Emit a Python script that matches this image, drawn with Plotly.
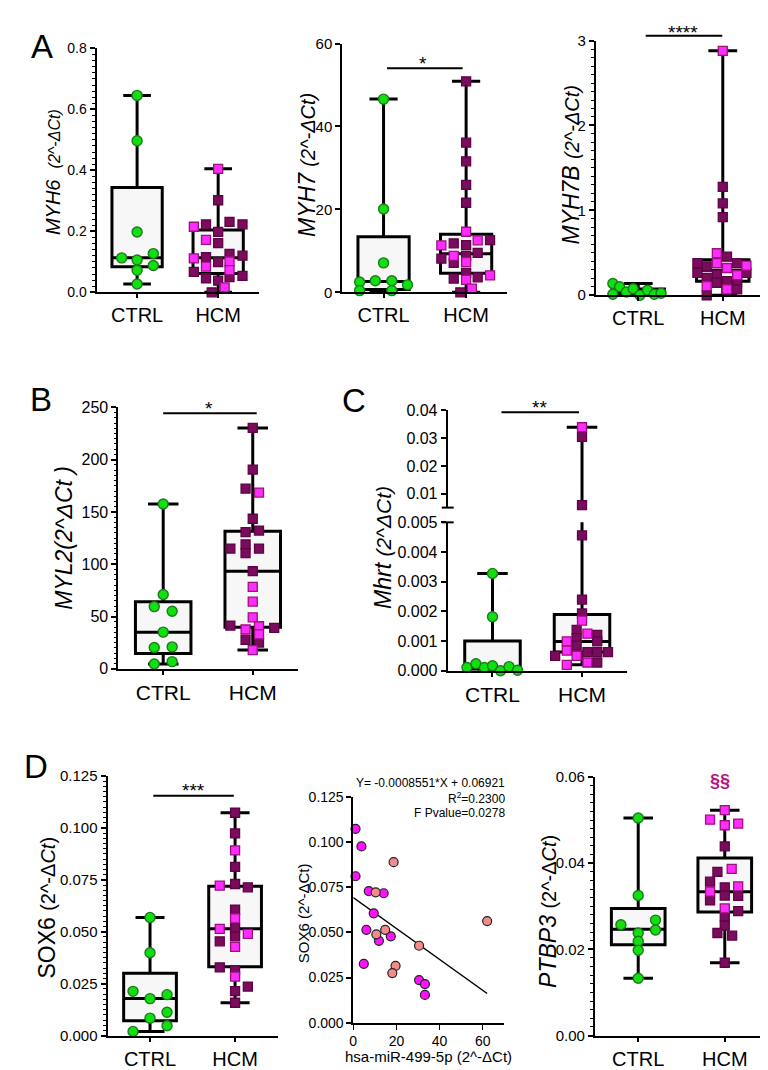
import numpy as np
import plotly.graph_objects as go

W, H = 768, 1070
FONT = "Liberation Sans, Arial, sans-serif"

GREEN = "#10e010"
GREEN_LINE = "#1d7a1d"
DARK = "#7b0b5c"
DARK_LINE = "#5e0345"
LIGHT = "#ff2cff"
LIGHT_LINE = "#9a1379"
BOXFILL = "#f7f7f7"

# ---------------- data ----------------
# box stats: [min, q1, median, q3, max]
# A - MYH6
myh6_ctrl = [0.646, 0.497, 0.198, 0.113, 0.106, 0.127, 0.088, 0.072, 0.027]
myh6_ctrl_dx = [0, 0, 0, -0.19, 0, 0.2, 0.2, 0, 0]
myh6_hcm = [0.405, 0.302, 0.215, 0.223, 0.198, 0.231, 0.223, 0.172, 0.161, 0.111, 0.115, 0.126,
            0.120, 0.099, 0.101, 0.084, 0.073, 0.067, 0.046, 0.038, 0.050, 0.054, 0.016, 0.0]
myh6_hcm_dx = [0, 0, -0.30, -0.15, 0, 0.14, 0.30, -0.15, 0, -0.30, -0.15, 0.14,
               0.30, 0, 0.14, -0.15, 0.14, -0.30, -0.15, 0, 0.14, 0.30, 0.08, -0.08]
myh6_hcm_dark = [0, 1, 0, 1, 1, 1, 1, 0, 1, 0, 1, 1, 1, 1, 0, 0, 0, 1, 1, 1, 1, 1, 0, 1]
myh6_box_ctrl = [0.027, 0.084, 0.113, 0.344, 0.646]
myh6_box_hcm = [0.0, 0.062, 0.113, 0.204, 0.405]

# A - MYH7
myh7_ctrl = [46.6, 20.1, 7.1, 2.5, 2.8, 2.8, 1.8, 0.4, 0.4]
myh7_ctrl_dx = [0, 0, 0, -0.29, -0.10, 0.10, 0.29, -0.29, 0.10]
myh7_hcm = [50.9, 36.1, 31.6, 25.9, 21.6, 14.6, 11.3, 11.8, 11.4, 12.5, 12.6, 8.1,
            8.8, 8.8, 9.5, 7.1, 7.3, 4.7, 4.1, 3.6, 3.3, 3.0, 0.9, 0.0]
myh7_hcm_dx = [0, 0, 0, 0, 0, 0, -0.30, -0.15, 0, 0.14, 0.29, -0.30,
               -0.15, 0, 0.14, -0.15, 0, 0, 0.29, 0.14, -0.15, 0, 0.07, -0.07]
myh7_hcm_dark = [1, 1, 1, 1, 1, 0, 0, 1, 1, 0, 1, 1, 0, 1, 1, 1, 0, 1, 0, 1, 1, 0, 0, 1]
myh7_box_ctrl = [0.3, 0.7, 2.6, 13.4, 46.6]
myh7_box_hcm = [0.0, 4.6, 9.3, 14.0, 50.9]

# A - MYH7B
myh7b_ctrl = [0.139, 0.10, 0.039, 0.077, 0.012, 0.0, 0.058, 0.012, 0.023]
myh7b_ctrl_dx = [-0.30, -0.22, -0.14, -0.06, -0.30, 0.02, 0.11, 0.19, 0.27]
myh7b_hcm = [2.88, 1.276, 1.082, 0.92, 0.495, 0.456, 0.379, 0.34, 0.379, 0.321, 0.379, 0.348,
             0.263, 0.205, 0.244, 0.236, 0.263, 0.108, 0.147, 0.166, 0.155, 0.07, 0.07, 0.0]
myh7b_hcm_dx = [0, 0, 0, 0, -0.07, 0.05, -0.30, -0.19, -0.07, 0.05, 0.17, 0.28,
                -0.30, -0.19, -0.07, 0.17, 0.28, -0.19, -0.07, 0.05, 0.17, 0.05, 0.17, -0.19]
myh7b_hcm_dark = [0, 1, 1, 1, 0, 1, 1, 1, 0, 0, 1, 0, 1, 1, 1, 0, 1, 0, 1, 1, 1, 0, 1, 1]
myh7b_box_ctrl = [0.0, 0.012, 0.04, 0.075, 0.139]
myh7b_box_hcm = [0.0, 0.166, 0.294, 0.418, 2.88]

# B - MYL2
myl2_ctrl = [157.6, 71.1, 59.5, 55.1, 35.1, 20.4, 21.0, 4.7, 6.9]
myl2_ctrl_dx = [0, 0, -0.10, 0.10, 0, -0.10, 0.10, -0.10, 0.10]
myl2_hcm = [230.3, 190.5, 172.3, 168.5, 143.5, 130.6, 132.2, 115, 119, 110.6, 115, 93.4,
            78.3, 64.2, 49.2, 41.4, 37.6, 40.7, 39.2, 32.9, 27.6, 25.1, 17.9]
myl2_hcm_dx = [0, 0, -0.08, 0.07, 0, -0.08, 0.07, -0.25, -0.08, -0.08, 0.07, 0,
               0, 0, 0, -0.25, -0.08, 0.07, 0.24, 0.07, -0.08, 0.07, 0]
myl2_hcm_dark = [1, 1, 1, 0, 1, 1, 1, 1, 1, 1, 1, 1, 0, 0, 0, 1, 0, 0, 1, 0, 1, 1, 0]
myl2_box_ctrl = [4.7, 14.7, 35.1, 64.2, 157.6]
myl2_box_hcm = [17.9, 39.8, 93.4, 131.6, 230.3]

# C - Mhrt
mhrt_ctrl = [0.00328, 0.00182, 0.00011, 0.00024, 0.00011, 0.00017, 0.0, 0.00014, 0.00002]
mhrt_ctrl_dx = [0, 0, -0.285, -0.185, -0.09, 0, 0.09, 0.185, 0.28]
mhrt_hcm = [0.0339, 0.0304, 0.0059, 0.00456, 0.0024, 0.00193, 0.00169, 0.00138, 0.00125, 0.0011,
            0.00121, 0.00099, 0.00099, 0.00085, 0.00068, 0.00063, 0.00063, 0.00063, 0.0005,
            0.0005, 0.00028, 0.00028, 0.0002]
mhrt_hcm_dx = [0, 0, 0, 0, 0, 0, 0, -0.06, 0.06, -0.06, 0.17, -0.17, 0.17, -0.06, -0.17,
               0.06, 0.17, 0.29, -0.30, -0.06, 0.06, 0.17, -0.17]
mhrt_hcm_dark = [0, 1, 1, 1, 1, 1, 0, 1, 0, 1, 1, 0, 1, 1, 0, 1, 1, 1, 1, 0, 0, 1, 0]
mhrt_box_ctrl = [0.0, 0.00005, 0.0001, 0.001, 0.00328]
mhrt_box_hcm = [0.0002, 0.00063, 0.00099, 0.0019, 0.0339]

# D - SOX6
sox6_ctrl = [0.0569, 0.0399, 0.0213, 0.0178, 0.0197, 0.0112, 0.0084, 0.0047, 0.002]
sox6_ctrl_dx = [0, 0, -0.2, 0, 0.2, 0.2, 0, 0.2, -0.2]
sox6_hcm = [0.1073, 0.0974, 0.0892, 0.0812, 0.073, 0.0722, 0.0714, 0.0607, 0.0564, 0.0514,
            0.0517, 0.049, 0.0478, 0.0454, 0.0427, 0.0328, 0.0315, 0.0284, 0.0236, 0.0214, 0.0158]
sox6_hcm_dx = [0, 0, 0, 0, 0, -0.18, 0.15, 0, 0, -0.18, 0, 0.15, 0, -0.18, 0, -0.18, 0, 0,
               0.15, 0, 0]
sox6_hcm_dark = [1, 1, 0, 1, 1, 0, 1, 1, 0, 0, 1, 0, 1, 1, 0, 1, 1, 0, 1, 1, 1]
sox6_box_ctrl = [0.002, 0.0071, 0.0178, 0.030, 0.0569]
sox6_box_hcm = [0.0158, 0.0331, 0.0514, 0.0719, 0.1073]

# D - correlation miR-499 vs SOX6
mir499 = [1.07, 3.8, 1.07, 7.2, 10.4, 14.1, 18.7, 9.5, 6.1, 10.7, 11.9, 14.8, 17.4, 19.6,
          18.1, 4.9, 30.5, 30.5, 33.2, 33.2, 62.0]
sox6_corr = [0.1072, 0.0975, 0.081, 0.0728, 0.0721, 0.0716, 0.0888, 0.0605, 0.0514, 0.0489,
             0.0453, 0.0514, 0.0478, 0.0315, 0.0275, 0.0326, 0.0426, 0.0236, 0.0214, 0.0154, 0.0562]
corr_salmon = [0, 0, 0, 0, 1, 0, 1, 0, 0, 1, 0, 1, 0, 1, 1, 0, 1, 0, 0, 0, 1]
fit_slope = -0.0008551
fit_intercept = 0.06921

# D - PTBP3
ptbp3_ctrl = [0.0505, 0.0325, 0.0257, 0.0268, 0.0245, 0.0238, 0.0219, 0.0198, 0.0133]
ptbp3_ctrl_dx = [0, 0, -0.2, 0.2, 0.2, 0, 0, 0, 0]
ptbp3_hcm = [0.0523, 0.0501, 0.0488, 0.0492, 0.0439, 0.0387, 0.038, 0.0357, 0.0344, 0.0346,
             0.0334, 0.0325, 0.0324, 0.0314, 0.0295, 0.0289, 0.0276, 0.0255, 0.0238, 0.0232, 0.0169]
ptbp3_hcm_dx = [0, -0.17, 0, 0.155, 0, 0.08, -0.085, -0.17, 0, 0.155, -0.17, 0, 0.155, -0.17,
                0, 0.155, 0, 0, -0.085, 0.085, 0]
ptbp3_hcm_dark = [0, 0, 0, 0, 1, 0, 1, 1, 1, 0, 0, 1, 1, 1, 0, 1, 1, 1, 1, 1, 1]
ptbp3_box_ctrl = [0.0133, 0.0211, 0.0247, 0.0295, 0.0505]
ptbp3_box_hcm = [0.0169, 0.0287, 0.0334, 0.0412, 0.0523]

groups = ["CTRL", "HCM"]


def fx(px):
    return px / W


def fy(py):
    return 1 - py / H


fig = go.Figure()


def add_box(xa, ya, pos, b):
    fig.add_trace(go.Box(
        x=[pos], lowerfence=[b[0]], q1=[b[1]], median=[b[2]], q3=[b[3]], upperfence=[b[4]],
        orientation="v", width=0.62, whiskerwidth=0.55, fillcolor=BOXFILL,
        line=dict(color="black", width=3), boxpoints=False, hoverinfo="skip",
        showlegend=False, xaxis=xa, yaxis=ya))


def add_points(xa, ya, ctrl, ctrl_dx, hcm, hcm_dx, hcm_dark, keep=None):
    ctrl = np.array(ctrl); hcm = np.array(hcm)
    cdx = np.array(ctrl_dx); hdx = np.array(hcm_dx); dark = np.array(hcm_dark) == 1
    cm = np.ones(len(ctrl), bool) if keep is None else keep(ctrl)
    hm = np.ones(len(hcm), bool) if keep is None else keep(hcm)
    if cm.any():
        fig.add_trace(go.Scatter(
            x=cdx[cm], y=ctrl[cm], mode="markers", cliponaxis=False, showlegend=False,
            marker=dict(symbol="circle", size=10, color=GREEN, line=dict(color=GREEN_LINE, width=1.4)),
            xaxis=xa, yaxis=ya))
    for sel, col, lc in [(dark, DARK, DARK_LINE), (~dark, LIGHT, LIGHT_LINE)]:
        m = sel & hm
        if m.any():
            fig.add_trace(go.Scatter(
                x=1 + hdx[m], y=hcm[m], mode="markers", cliponaxis=False, showlegend=False,
                marker=dict(symbol="square", size=9, color=col, line=dict(color=lc, width=1.3)),
                xaxis=xa, yaxis=ya))


def xaxis_cat(xpx, anchor, size=19):
    return dict(domain=[fx(xpx[0]), fx(xpx[1])], anchor=anchor, range=[-0.5, 1.5],
                tickvals=[0, 1], ticktext=groups, showline=True, linecolor="black",
                linewidth=2, ticks="outside", ticklen=4, tickwidth=1.5, tickcolor="black",
                showgrid=False, zeroline=False, tickfont=dict(family=FONT, size=size, color="black"))


def yaxis_num(ypx, anchor, rng, dtick, fmt, size, minor=None, tickvals=None, ticktext=None):
    d = dict(domain=[fy(ypx[1]), fy(ypx[0])], anchor=anchor, range=rng, dtick=dtick,
             tickformat=fmt, showline=True, linecolor="black", linewidth=2, ticks="outside",
             ticklen=5, tickwidth=1.5, tickcolor="black", showgrid=False, zeroline=False,
             tickfont=dict(family=FONT, size=size, color="black"))
    if minor:
        d["minor"] = dict(dtick=minor, ticks="outside", ticklen=2.5, tickwidth=1,
                          tickcolor="black", showgrid=False)
    if tickvals is not None:
        d["tickvals"] = tickvals
        d["ticktext"] = ticktext
        d.pop("dtick")
    return d


layout = {}

# panel definitions: (k, x px, y px, range, dtick, fmt, tick size, minor, data...)
panels = [
    (1, (85, 248), (32, 280), [0, 0.8], 0.2, ".1f", 14, 0.02,
     myh6_ctrl, myh6_ctrl_dx, myh6_hcm, myh6_hcm_dx, myh6_hcm_dark, myh6_box_ctrl, myh6_box_hcm, 20),
    (2, (332, 498), (27, 280), [0, 60], 20, "d", 15, None,
     myh7_ctrl, myh7_ctrl_dx, myh7_hcm, myh7_hcm_dx, myh7_hcm_dark, myh7_box_ctrl, myh7_box_hcm, 20),
    (3, (587, 757), (24, 283), [0, 3], 1, "d", 15, 0.1,
     myh7b_ctrl, myh7b_ctrl_dx, myh7b_hcm, myh7b_hcm_dx, myh7b_hcm_dark, myh7b_box_ctrl, myh7b_box_hcm, 20),
    (4, (107, 287), (397, 663), [0, 250], 50, "d", 16, 5,
     myl2_ctrl, myl2_ctrl_dx, myl2_hcm, myl2_hcm_dx, myl2_hcm_dark, myl2_box_ctrl, myl2_box_hcm, 21),
    (7, (96, 267), (772, 1036), [0, 0.125], 0.025, ".3f", 15, 0.0025,
     sox6_ctrl, sox6_ctrl_dx, sox6_hcm, sox6_hcm_dx, sox6_hcm_dark, sox6_box_ctrl, sox6_box_hcm, 20),
    (9, (586, 760), (773, 1036), [0, 0.06], 0.02, ".2f", 15, 0.002,
     ptbp3_ctrl, ptbp3_ctrl_dx, ptbp3_hcm, ptbp3_hcm_dx, ptbp3_hcm_dark, ptbp3_box_ctrl, ptbp3_box_hcm, 20),
]

for (k, xpx, ypx, rng, dt, fmt, ts, mn, c, cdx, h, hdx, hd, bc, bh, cs) in panels:
    xa, ya = f"x{k}", f"y{k}"
    add_box(xa, ya, 0, bc)
    add_box(xa, ya, 1, bh)
    add_points(xa, ya, c, cdx, h, hdx, hd)
    layout[f"xaxis{k}"] = xaxis_cat(xpx, ya, cs)
    layout[f"yaxis{k}"] = yaxis_num(ypx, xa, rng, dt, fmt, ts, mn)

# C - broken axis (y5 lower, y6 upper, shared x5)
for ya in ["y5", "y6"]:
    add_box("x5", ya, 0, mhrt_box_ctrl)
    add_box("x5", ya, 1, mhrt_box_hcm)
add_points("x5", "y5", mhrt_ctrl, mhrt_ctrl_dx, mhrt_hcm, mhrt_hcm_dx, mhrt_hcm_dark,
           keep=lambda v: v <= 0.005)
add_points("x5", "y6", mhrt_ctrl, mhrt_ctrl_dx, mhrt_hcm, mhrt_hcm_dx, mhrt_hcm_dark,
           keep=lambda v: v > 0.005)
layout["xaxis5"] = xaxis_cat((438, 618), "y5", 21)
layout["yaxis5"] = yaxis_num((514, 665), "x5", [0, 0.005], 0.001, ".3f", 16)
layout["yaxis6"] = yaxis_num((400, 499), "x5", [0.005, 0.04], None, None, 16,
                             tickvals=[0.01, 0.02, 0.03, 0.04],
                             ticktext=["0.01", "0.02", "0.03", "0.04"])

# D - correlation
salmon = np.array(corr_salmon) == 1
mx = np.array(mir499); sy = np.array(sox6_corr)
fit_x = np.array([0, mx.max()])
fig.add_trace(go.Scatter(x=fit_x, y=fit_slope * fit_x + fit_intercept, mode="lines",
                         line=dict(color="black", width=1.5), showlegend=False,
                         xaxis="x8", yaxis="y8"))
for sel, col in [(~salmon, "#ff10ff"), (salmon, "#f28b8b")]:
    fig.add_trace(go.Scatter(x=mx[sel], y=sy[sel], mode="markers", cliponaxis=False,
                             showlegend=False,
                             marker=dict(size=9, color=col, line=dict(color="#222", width=1.2)),
                             xaxis="x8", yaxis="y8"))
layout["xaxis8"] = dict(domain=[fx(343), fx(495)], anchor="y8", range=[0, 70],
                        tickvals=[0, 20, 40, 60], showline=True, linecolor="black", linewidth=1.5,
                        ticks="outside", ticklen=5, tickwidth=1.2, tickcolor="black",
                        showgrid=False, zeroline=False,
                        tickfont=dict(family=FONT, size=14, color="black"))
layout["yaxis8"] = yaxis_num((793, 1023), "x8", [0, 0.125], 0.025, ".3f", 14)
layout["yaxis8"]["linewidth"] = 1.5

# ---------------- text ----------------
ann = []


def text(px, py, s, size, angle=0, color="black", xanchor="center"):
    ann.append(dict(x=fx(px), y=fy(py), xref="paper", yref="paper", text=s, showarrow=False,
                    textangle=angle, xanchor=xanchor, yanchor="middle",
                    font=dict(family=FONT, size=size, color=color)))


# panel letters
for lab, px, py in [("A", 30, 30), ("B", 29, 389), ("C", 344, 390), ("D", 24, 762)]:
    text(px, py, lab, 33)

# y titles
P = "<span style='font-size:%dpx'>%s</span>"
text(42, 158, "<i>MYH6</i>  " + P % (16, "<i>(2^-ΔCt)</i>"), 20, -90)
text(297, 150, "<i>MYH7</i> " + P % (20, "<i>(2^-ΔCt)</i>"), 23, -90)
text(562, 150, "<i>MYH7B</i> " + P % (20, "<i>(2^-ΔCt)</i>"), 23, -90)
text(52, 530, "<i>MYL2(2^ΔCt )</i>", 23, -90)
text(373, 540, "<i>Mhrt</i> " + P % (21, "<i>(2^ΔCt)</i>"), 23, -90)
text(35, 906, "SOX6 " + P % (20, "(2^-Δ<i>Ct</i>)"), 23, -90)
text(293, 911, "SOX6 (2^-ΔCt)", 15, -90)
text(538, 910, "<i>PTBP3</i> " + P % (20, "(2^-Δ<i>Ct</i>)"), 23, -90)
text(419, 1057, "hsa-miR-499-5p (2^-ΔCt)", 15)

# regression stats
text(498, 779, "Y= -0.0008551*X + 0.06921", 12, xanchor="right")
text(498, 794, "R<sup>2</sup>=0.2300", 12, xanchor="right")
text(498, 810, "F Pvalue=0.0278", 12, xanchor="right")

# significance
shapes = []
for (x0, x1, y, s, sx, sy) in [(377, 453, 52, "*", 413, 47),
                               (637, 714, 19, "****", 675, 16),
                               (152, 246, 403, "*", 198, 398),
                               (492, 570, 402, "**", 530, 397),
                               (142, 223, 792, "***", 182, 787)]:
    shapes.append(dict(type="line", xref="paper", yref="paper", x0=fx(x0), x1=fx(x1),
                       y0=fy(y), y1=fy(y), line=dict(color="black", width=2)))
    text(sx, sy, s, 19)
text(712, 777, "<b>§§</b>", 18, color="#b0187e")

# break marks on the Mhrt axis
for py in [499, 514]:
    shapes.append(dict(type="line", xref="paper", yref="paper", x0=fx(432), x1=fx(444),
                       y0=fy(py), y1=fy(py), line=dict(color="black", width=2)))

fig.update_layout(
    width=W, height=H, margin=dict(l=0, r=0, t=0, b=0),
    paper_bgcolor="white", plot_bgcolor="rgba(0,0,0,0)",
    font=dict(family=FONT, color="black"),
    annotations=ann, shapes=shapes, showlegend=False,
    **layout,
)

fig.write_html("out.html")
